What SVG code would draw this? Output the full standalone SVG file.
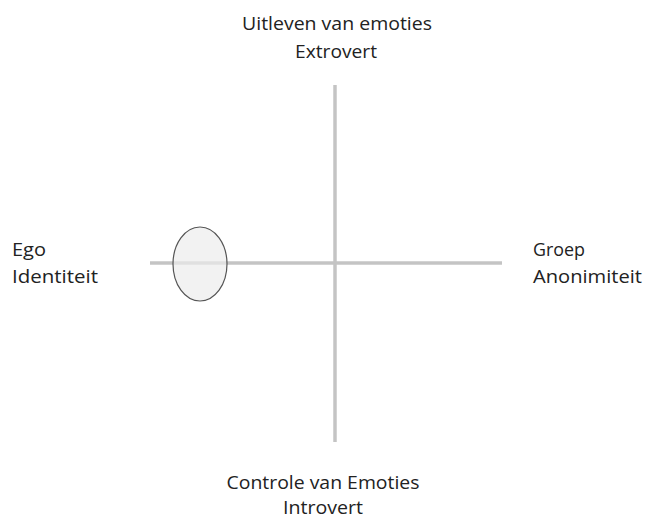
<svg xmlns="http://www.w3.org/2000/svg" width="645" height="519" viewBox="0 0 645 519">
<style>
.t{font-family:"Open Sans","Noto Sans",sans-serif;font-size:18px;fill:#222}
.ax{stroke:#c4c4c4;stroke-width:3.5;fill:none}
</style>
<rect width="645" height="519" fill="#fff"/>
<g id="connectors">
<line class="ax" x1="335" y1="85" x2="335" y2="442"/>
<line class="ax" x1="150" y1="263" x2="502" y2="263"/>
</g>
<g id="ellipse"><ellipse cx="200" cy="264" rx="27" ry="37" fill="#ececec" fill-opacity="0.7" stroke="#555" stroke-width="1.2"/></g>
<g id="top"><text class="t" x="337" y="30" text-anchor="middle" textLength="190" lengthAdjust="spacingAndGlyphs">Uitleven van emoties</text>
<text class="t" x="336" y="58" text-anchor="middle" textLength="82" lengthAdjust="spacingAndGlyphs">Extrovert</text></g>
<g id="left"><text class="t" x="12" y="256" textLength="34" lengthAdjust="spacingAndGlyphs">Ego</text>
<text class="t" x="12" y="283" textLength="86" lengthAdjust="spacingAndGlyphs">Identiteit</text></g>
<g id="right"><text class="t" x="533" y="256" textLength="52" lengthAdjust="spacingAndGlyphs">Groep</text>
<text class="t" x="533" y="283" textLength="109" lengthAdjust="spacingAndGlyphs">Anonimiteit</text></g>
<g id="bottom"><text class="t" x="323" y="489" text-anchor="middle" textLength="193" lengthAdjust="spacingAndGlyphs">Controle van Emoties</text>
<text class="t" x="323" y="514" text-anchor="middle" textLength="80" lengthAdjust="spacingAndGlyphs">Introvert</text></g>
</svg>
